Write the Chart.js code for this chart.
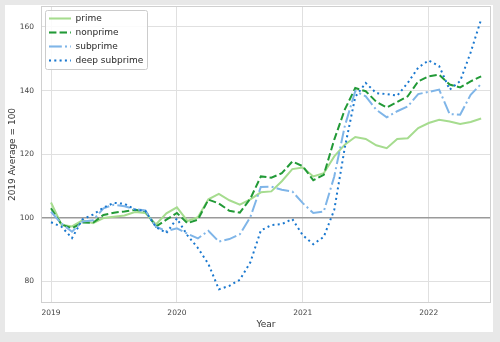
<!DOCTYPE html>
<html>
<head>
<meta charset="utf-8">
<script src="https://cdn.jsdelivr.net/npm/chart.js@4"></script>
<style>
  html, body { margin: 0; padding: 0; width: 500px; height: 342px; background: #e8e8e8; overflow: hidden; }
  #panel { position: absolute; left: 5px; top: 5px; width: 488px; height: 327px; background: #fff; }
</style>
</head>
<body>
<div id="panel"><canvas id="chart" width="488" height="327"></canvas></div>
<script>
// monthly index values, Jan 2019 .. Jun 2022 (2019 average = 100)
const firstYear = 2019;
const yearTicks = [2019, 2020, 2021, 2022];
const indexTicks = [80, 100, 120, 140, 160];
const seriesNames = ['prime', 'nonprime', 'subprime', 'deep subprime'];

const prime = [104.8, 97.8, 97.3, 99.2, 98.3, 99.9, 100.3, 100.7, 101.8, 101.5, 97.9, 101.4,
               103.3, 99.0, 100.2, 105.8, 107.5, 105.5, 104.1, 105.8, 108.0, 108.3, 111.5, 115.3,
               115.8, 113.0, 114.0, 119.3, 123.0, 125.4, 124.8, 122.8, 121.9, 124.8, 125.0, 128.2,
               129.8, 130.8, 130.3, 129.5, 130.1, 131.2];
const nonprime = [103.0, 97.9, 96.7, 98.5, 98.4, 100.9, 101.6, 102.0, 102.5, 102.1, 97.2, 99.4,
                  101.5, 98.3, 99.4, 105.7, 104.5, 102.2, 101.6, 106.0, 113.0, 112.6, 114.0, 117.7,
                  116.2, 111.8, 113.5, 124.6, 134.0, 140.8, 139.8, 136.5, 134.7, 136.4, 138.2, 142.9,
                  144.5, 145.0, 141.9, 141.0, 142.9, 144.5];
const subprime = [101.9, 98.2, 95.6, 98.8, 99.2, 103.0, 104.1, 103.6, 102.7, 102.3, 97.2, 95.8,
                  96.7, 95.0, 93.5, 95.9, 92.5, 93.3, 94.8, 100.2, 109.7, 109.8, 108.8, 108.3,
                  104.6, 101.5, 102.0, 113.0, 128.8, 139.8, 138.2, 134.0, 131.6, 133.5, 135.0, 138.9,
                  139.6, 140.3, 132.6, 132.4, 138.7, 142.1];
const deepSubprime = [98.6, 97.2, 93.6, 99.5, 101.0, 103.2, 104.7, 104.4, 102.6, 102.1, 97.1, 95.2,
                      99.8, 94.5, 90.5, 85.5, 77.5, 78.6, 80.5, 86.0, 96.0, 97.7, 98.0, 99.6,
                      94.5, 91.7, 94.0, 102.5, 122.0, 138.0, 142.4, 139.2, 138.9, 138.4, 142.4, 147.2,
                      149.5, 147.7, 140.3, 143.0, 152.0, 162.4];

const seriesValues = [prime, nonprime, subprime, deepSubprime];
const lineColors = ['#a6dc8f', '#229a37', '#7fb5e8', '#1a78cf'];
const lineDashes = [[], [7.4, 3.2], [12.8, 3.2, 2, 3.2], [2, 3.3]];

function toPoints(values) {
    return values.map((v, i) => ({ x: firstYear + i / 12, y: v }));
}

Chart.defaults.font.family = '"DejaVu Sans", sans-serif';

// legend sits inside the plot, with a rounded translucent box behind it,
// and the plot gets a light frame on all four sides
const frameBoxes = {
    id: 'frameBoxes',
    afterLayout(chart) {
        chart.legend.left = chart.chartArea.left + 3;
        chart.legend.top = 4;
    },
    beforeDatasetsDraw(chart) {
        const { ctx, chartArea } = chart;
        ctx.save();
        ctx.strokeStyle = '#d0d0d0';
        ctx.lineWidth = 1;
        ctx.strokeRect(chartArea.left + 0.5, chartArea.top + 0.5, chartArea.width - 1, chartArea.height - 1);

        const boxes = chart.legend.legendHitBoxes;
        const left = Math.min(...boxes.map(b => b.left)) - 4;
        const right = Math.max(...boxes.map(b => b.left + b.width)) + 4;
        const top = Math.min(...boxes.map(b => b.top)) - 4;
        const bottom = Math.max(...boxes.map(b => b.top + b.height)) + 4;
        ctx.beginPath();
        ctx.roundRect(Math.round(left) + 0.5, Math.round(top) + 0.5, Math.round(right - left), Math.round(bottom - top), 2);
        ctx.fillStyle = 'rgba(255,255,255,0.85)';
        ctx.fill();
        ctx.strokeStyle = '#cccccc';
        ctx.stroke();
        ctx.restore();
        chart.legend.draw();
    }
};

const datasets = seriesNames.map((name, i) => ({
    label: name,
    data: toPoints(seriesValues[i]),
    borderColor: lineColors[i],
    backgroundColor: lineColors[i],
    borderWidth: 2,
    borderDash: lineDashes[i],
    pointRadius: 0,
    tension: 0,
    fill: false,
    order: seriesNames.length - i
}));

new Chart(document.getElementById('chart'), {
    type: 'line',
    data: { datasets: datasets },
    plugins: [frameBoxes],
    options: {
        responsive: false,
        animation: false,
        devicePixelRatio: 1,
        layout: { padding: { top: 1, right: 2, bottom: 0, left: 0 } },
        plugins: {
            tooltip: { enabled: false },
            legend: {
                position: 'chartArea',
                align: 'start',
                labels: {
                    usePointStyle: true,
                    pointStyle: 'line',
                    pointStyleWidth: 22,
                    padding: 5,
                    color: '#333',
                    font: { size: 9 },
                    sort: (a, b) => a.datasetIndex - b.datasetIndex,
                    generateLabels: chart => Chart.defaults.plugins.legend.labels.generateLabels(chart).map(item => {
                        const ds = chart.data.datasets[item.datasetIndex];
                        item.lineDash = ds.borderDash;
                        item.lineWidth = ds.borderWidth;
                        item.strokeStyle = ds.borderColor;
                        return item;
                    })
                }
            }
        },
        scales: {
            x: {
                type: 'linear',
                bounds: 'data',
                min: 2018.9205,
                max: 2022.495,
                afterBuildTicks: scale => { scale.ticks = yearTicks.map(v => ({ value: v })); },
                afterFit: scale => { scale.height = 29; scale.paddingLeft = 0; scale.paddingRight = 0; },
                border: { display: false },
                grid: { color: '#e0e0e0', drawTicks: false },
                ticks: { padding: 6, color: '#444', font: { size: 7.5 }, callback: v => String(v) },
                title: { display: true, text: 'Year', color: '#333', font: { size: 9 }, padding: { top: 0, bottom: 2.3 } }
            },
            y: {
                bounds: 'data',
                min: 73.2,
                max: 166.6,
                afterBuildTicks: scale => { scale.ticks = indexTicks.map(v => ({ value: v })); },
                afterFit: scale => { scale.width = 36; scale.paddingTop = 0; scale.paddingBottom = 0; },
                border: { display: false },
                grid: {
                    drawTicks: false,
                    color: ctx => (ctx.tick && ctx.tick.value === 100) ? '#9a9a9a' : '#e0e0e0',
                    lineWidth: ctx => (ctx.tick && ctx.tick.value === 100) ? 1.6 : 1
                },
                ticks: { padding: 7, color: '#444', font: { size: 7.5 } },
                title: { display: true, text: '2019 Average = 100', color: '#333', font: { size: 9 }, padding: { top: 2, bottom: 0 } }
            }
        }
    }
});
</script>
</body>
</html>
